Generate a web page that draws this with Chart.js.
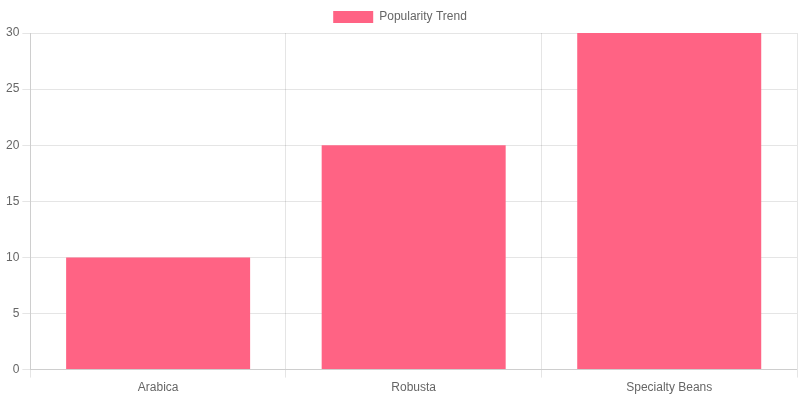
<!DOCTYPE html>
<html>
<head>
<meta charset="utf-8">
<script src="https://cdn.jsdelivr.net/npm/chart.js@4"></script>
<style>
  html, body { margin: 0; padding: 0; background: #fff; }
  #wrap { width: 800px; height: 400px; }
</style>
</head>
<body>
<div id="wrap"><canvas id="popularityChart"></canvas></div>
<script>
// Chart data
const categories = ['Arabica', 'Robusta', 'Specialty Beans'];
const popularity = [10, 20, 30];
const seriesLabel = 'Popularity Trend';

// Build the chart
const ctx = document.getElementById('popularityChart').getContext('2d');
new Chart(ctx, {
    type: 'bar',
    data: {
        labels: categories,
        datasets: [{
            label: seriesLabel,
            data: popularity,
            backgroundColor: 'rgb(255, 99, 132)',
            borderColor: 'rgb(255, 99, 132)',
            borderWidth: 0
        }]
    },
    options: {
        responsive: true,
        maintainAspectRatio: false,
        animation: false,
        layout: {
            padding: { left: 3, right: 3, top: 1, bottom: 2 }
        },
        scales: {
            y: {
                beginAtZero: true,
                max: 30,
                ticks: { stepSize: 5 }
            }
        }
    }
});
</script>
</body>
</html>
